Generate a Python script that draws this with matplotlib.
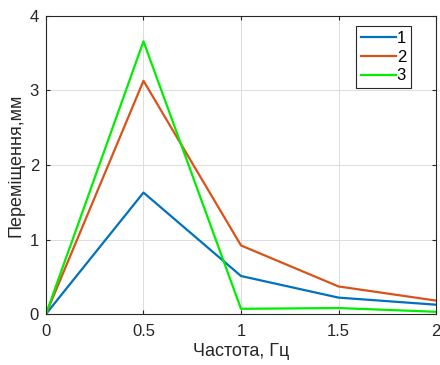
import matplotlib
matplotlib.use('Agg')
import matplotlib.pyplot as plt

# frequency, Hz
freq = [0, 0.5, 1, 1.5, 2]
# displacement, mm
disp_1 = [0, 1.63, 0.51, 0.22, 0.125]
disp_2 = [0, 3.13, 0.92, 0.37, 0.18]
disp_3 = [0, 3.66, 0.07, 0.08, 0.03]
labels = ['1', '2', '3']
colors = ['#0072BD', '#D95319', '#00EE00']

plt.rcParams['font.family'] = ['Liberation Sans', 'DejaVu Sans']

fig = plt.figure(figsize=(4.4, 3.65), dpi=100)
ax = fig.add_axes([0.1045, 0.1397, 0.8865, 0.8165])

for y, lab, c in zip([disp_1, disp_2, disp_3], labels, colors):
    ax.plot(freq, y, color=c, linewidth=1.6, label=lab)

ax.set_xlim(0, 2)
ax.set_ylim(0, 4)
ax.set_xticks([0, 0.5, 1, 1.5, 2])
ax.set_xticklabels(['0', '0.5', '1', '1.5', '2'])
ax.set_yticks([0, 1, 2, 3, 4])
ax.grid(True, color='#dddddd', linewidth=0.7)
ax.tick_params(direction='in', length=3, labelsize=12, colors='#262626',
               top=True, right=True)
ax.tick_params(axis='x', pad=7)
ax.tick_params(axis='y', pad=5)
for sp in ax.spines.values():
    sp.set_color('#262626')
    sp.set_linewidth(0.8)

ax.set_xlabel('Частота, Гц', fontsize=13, color='#262626', labelpad=3)
ax.set_ylabel('Переміщення,мм', fontsize=13, color='#262626', labelpad=4)

leg = ax.legend(loc='upper right', fontsize=12, handlelength=2.1,
                handletextpad=0.05, borderpad=0.3, labelspacing=0.22,
                borderaxespad=0, fancybox=False, edgecolor='#262626',
                framealpha=1, bbox_to_anchor=(0.936, 0.966))
leg.get_frame().set_linewidth(0.8)

fig.savefig('out.png', dpi=100)
